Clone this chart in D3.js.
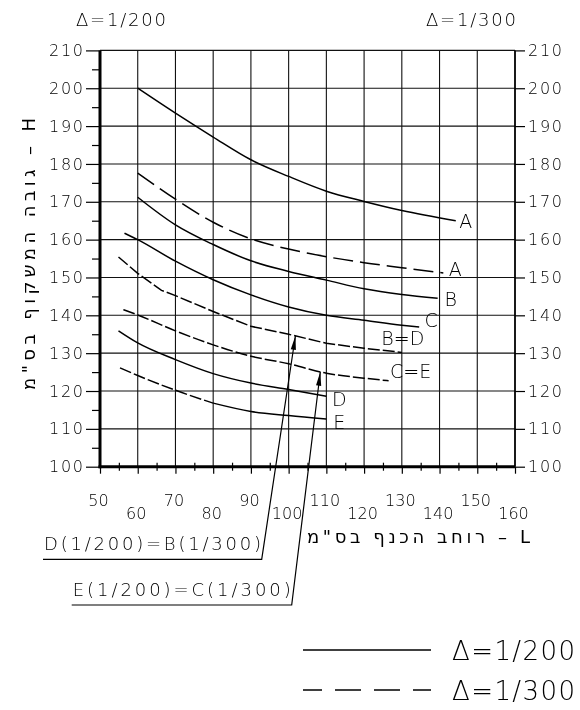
<!DOCTYPE html>
<html>
<head>
<meta charset="utf-8">
<script src="https://cdn.jsdelivr.net/npm/d3@7"></script>
<style>
  body { margin: 0; background: #fff; }
  svg { display: block; will-change: transform; }
</style>
</head>
<body>
<svg id="chart" width="580" height="710"></svg>
<script>
// Lintel height H (cm) against span width L (cm), for deflection limits 1/200 and 1/300.

const xTicks = [50, 60, 70, 80, 90, 100, 110, 120, 130, 140, 150, 160];
const yTicks = [100, 110, 120, 130, 140, 150, 160, 170, 180, 190, 200, 210];
const yMinorTicks = [105, 115, 125, 135, 145, 155, 165, 175, 185, 195, 205];
const xMinorTicks = [55, 65, 75, 85, 95, 105, 115, 125, 135, 145, 155];

// Δ = 1/200 curves, [L, H]
const curveA200 = [[60, 200], [70, 193.4], [80, 187.1], [90, 181.1], [100, 176.7], [110, 172.8], [120, 170.1], [130, 167.7], [144.3, 165.0]];
const curveB200 = [[60, 171.2], [70, 163.9], [80, 158.7], [90, 154.4], [100, 151.6], [110, 149.3], [120, 147.0], [130, 145.5], [139.5, 144.5]];
const curveC200 = [[56.5, 161.7], [60, 160], [70, 154.3], [80, 149.4], [90, 145.4], [100, 142.2], [110, 140.0], [120, 138.7], [130, 137.4], [134.6, 136.9]];
const curveD200 = [[54.9, 135.9], [60, 132.7], [70, 128.3], [80, 124.6], [90, 122.1], [100, 120.4], [110, 118.6]];
const curveE200 = [[55.3, 126.1], [60, 124.1], [70, 120.2], [80, 116.8], [90, 114.6], [100, 113.5], [110, 112.6]];

// Δ = 1/300 curves, [L, H]
const curveA300 = [[60, 177.6], [70, 170.7], [80, 164.6], [90, 160.2], [100, 157.5], [110, 155.5], [120, 153.9], [130, 152.6], [141, 151.2]];
const curveB300 = [[54.9, 155.4], [60, 151.1], [66.3, 146.6], [70, 145.2], [80, 141.0], [90, 137.1], [100, 135.0], [110, 132.6], [120, 131.3], [130, 130.2]];
const curveC300 = [[56.2, 141.5], [60, 140.1], [70, 135.9], [80, 132.2], [90, 129.2], [100, 127.2], [110, 124.7], [120, 123.4], [126.5, 122.7]];

const curveLabels = ["A", "B", "C", "D", "E", "A", "B=D", "C=E"];

// Where the two call-outs point, [L, H]
const calloutTexts = ["D(1/200)=B(1/300)", "E(1/200)=C(1/300)"];
const calloutTargets = [[101.8, 134.6], [108.4, 125.1]];

const headerLabels = ["\u0394=1/200", "\u0394=1/300"];
const legendLabels = ["\u0394=1/200", "\u0394=1/300"];
const xTitle = "רוחב הכנף בס\"מ \u2013 L";
const yTitle = "גובה המשקוף בס\"מ \u2013 H";

// ---------------------------------------------------------------
const FONT = "'DejaVu Sans', sans-serif";
const WEIGHT = 200;
const svg = d3.select("#chart");

const x = d3.scaleLinear().domain([50, 160]).range([100, 515]);
const y = d3.scaleLinear().domain([100, 210]).range([466.7, 50.4]);

// grid
const grid = svg.append("g").attr("stroke", "#111").attr("stroke-width", 1.1);
grid.selectAll("line.v").data(xTicks.filter(d => d > 50 && d < 160)).join("line")
  .attr("x1", d => x(d)).attr("x2", d => x(d)).attr("y1", y(210)).attr("y2", y(100));
grid.selectAll("line.h").data(yTicks.filter(d => d > 100)).join("line")
  .attr("x1", x(50)).attr("x2", x(160)).attr("y1", d => y(d)).attr("y2", d => y(d));

function styleAxis(g) {
  g.select(".domain").remove();
  g.selectAll("line").attr("stroke", "#000").attr("stroke-width", 1.2);
  g.selectAll("text").attr("font-family", FONT).attr("font-weight", WEIGHT)
    .attr("font-size", 16).attr("fill", "#000");
}

// left axis
svg.append("g").attr("transform", `translate(${x(50)},0)`)
  .call(d3.axisLeft(y).tickValues(yTicks).tickSize(14).tickPadding(3))
  .call(styleAxis)
  .call(g => g.selectAll("text").attr("textLength", 34).attr("lengthAdjust", "spacing"));
svg.append("g").attr("transform", `translate(${x(50)},0)`)
  .call(d3.axisLeft(y).tickValues(yMinorTicks).tickSize(8).tickFormat(""))
  .call(styleAxis);

// right axis
svg.append("g").attr("transform", `translate(${x(160)},0)`)
  .call(d3.axisRight(y).tickValues(yTicks).tickSize(10).tickPadding(3))
  .call(styleAxis)
  .call(g => g.selectAll("text").attr("textLength", 34).attr("lengthAdjust", "spacing"));

// bottom axis with staggered labels
svg.append("g").attr("transform", `translate(0,${y(100)})`)
  .call(d3.axisBottom(x).tickValues(xTicks).tickSize(7))
  .call(styleAxis)
  .call(g => g.selectAll("text")
    .attr("dy", null)
    .attr("x", -2)
    .attr("y", (d, i) => (i % 2 ? 52 : 39)));
svg.append("g").attr("transform", `translate(0,${y(100)})`)
  .call(d3.axisBottom(x).tickValues(xMinorTicks).tickSize(4).tickFormat(""))
  .call(styleAxis)
  .call(g => g.selectAll(".tick line").attr("y1", -4));

// frame lines
svg.append("line").attr("x1", x(50)).attr("x2", x(50)).attr("y1", y(210)).attr("y2", y(100) + 1.5)
  .attr("stroke", "#000").attr("stroke-width", 3);
svg.append("line").attr("x1", x(50) - 1.5).attr("x2", x(160)).attr("y1", y(100)).attr("y2", y(100))
  .attr("stroke", "#000").attr("stroke-width", 3);
svg.append("line").attr("x1", x(160)).attr("x2", x(160)).attr("y1", y(210)).attr("y2", y(100))
  .attr("stroke", "#000").attr("stroke-width", 1.8);

// curves
const smooth = d3.line().x(d => x(d[0])).y(d => y(d[1])).curve(d3.curveMonotoneX);
const straight = d3.line().x(d => x(d[0])).y(d => y(d[1]));
const curves = svg.append("g").attr("fill", "none").attr("stroke", "#000").attr("stroke-width", 1.5);

const LONG_DASH = "20,7";
const SHORT_DASH = "12,3";

[curveA200, curveB200, curveC200, curveD200].forEach(c =>
  curves.append("path").attr("d", smooth(c)));
// E starts with a broken stroke up to L = 80
curves.append("path").attr("d", smooth(curveE200.filter(d => d[0] <= 80))).attr("stroke-dasharray", SHORT_DASH);
curves.append("path").attr("d", smooth(curveE200.filter(d => d[0] >= 80)));

curves.append("path").attr("d", smooth(curveA300)).attr("stroke-dasharray", LONG_DASH);
curves.append("path").attr("d", straight(curveB300)).attr("stroke-dasharray", SHORT_DASH);
curves.append("path").attr("d", smooth(curveC300)).attr("stroke-dasharray", SHORT_DASH);

// curve-end labels
const allCurves = [curveA200, curveB200, curveC200, curveD200, curveE200, curveA300, curveB300, curveC300];
const labelOffsets = [[10, 0], [13, 1], [12, -7], [13, 3], [13, 3], [12, -4], [1, -14], [22, -10]];
svg.append("g").selectAll("text").data(curveLabels).join("text")
  .attr("x", (d, i) => x(allCurves[i][allCurves[i].length - 1][0]) + labelOffsets[i][0])
  .attr("y", (d, i) => y(allCurves[i][allCurves[i].length - 1][1]) + labelOffsets[i][1])
  .attr("dy", "0.36em")
  .attr("text-anchor", "middle")
  .attr("font-family", FONT).attr("font-weight", WEIGHT).attr("font-size", 19)
  .attr("fill", "#000")
  .text(d => d);

// call-outs with leaders and arrowheads
const calloutLayout = [
  { x0: 43, x1: 261.7, yLine: 559.3, textLen: 217 },
  { x0: 71.7, x1: 291.7, yLine: 605, textLen: 218 }
];
calloutTexts.forEach((t, i) => {
  const L = calloutLayout[i];
  const tx = x(calloutTargets[i][0]), ty = y(calloutTargets[i][1]);
  svg.append("text")
    .attr("x", L.x0 + 1).attr("y", L.yLine - 9)
    .attr("font-family", FONT).attr("font-weight", WEIGHT).attr("font-size", 18)
    .attr("textLength", L.textLen).attr("lengthAdjust", "spacing")
    .text(t);
  svg.append("path")
    .attr("d", `M${L.x0},${L.yLine}H${L.x1}L${tx},${ty}`)
    .attr("fill", "none").attr("stroke", "#000").attr("stroke-width", 1.2);
  const ang = Math.atan2(ty - L.yLine, tx - L.x1);
  const len = 14, half = 2.6;
  const bx = tx - len * Math.cos(ang), by = ty - len * Math.sin(ang);
  const px = -Math.sin(ang) * half, py = Math.cos(ang) * half;
  svg.append("path")
    .attr("d", `M${tx},${ty}L${bx + px},${by + py}L${bx - px},${by - py}Z`)
    .attr("fill", "#000");
});

// header labels above each side axis
svg.append("g").selectAll("text").data(headerLabels).join("text")
  .attr("x", (d, i) => (i ? 426 : 76)).attr("y", 26)
  .attr("font-family", FONT).attr("font-weight", WEIGHT).attr("font-size", 18)
  .attr("textLength", 90).attr("lengthAdjust", "spacing")
  .text(d => d);

// axis titles (regular weight: the light face has no Hebrew glyphs)
svg.append("text")
  .attr("x", 530).attr("y", 543)
  .attr("text-anchor", "end")
  .attr("font-family", FONT).attr("font-weight", 400).attr("font-size", 18)
  .attr("textLength", 223).attr("lengthAdjust", "spacing")
  .text(xTitle);
svg.append("text")
  .attr("transform", "translate(35,254) rotate(-90)")
  .attr("text-anchor", "middle")
  .attr("font-family", FONT).attr("font-weight", 400).attr("font-size", 18)
  .attr("textLength", 272).attr("lengthAdjust", "spacing")
  .text(yTitle);

// legend
const legendY = [650, 690];
svg.append("line").attr("x1", 303).attr("x2", 431).attr("y1", legendY[0]).attr("y2", legendY[0])
  .attr("stroke", "#000").attr("stroke-width", 1.5);
svg.append("line").attr("x1", 303).attr("x2", 431).attr("y1", legendY[1]).attr("y2", legendY[1])
  .attr("stroke", "#000").attr("stroke-width", 1.5)
  .attr("stroke-dasharray", "26,13").attr("stroke-dashoffset", 7);
svg.append("g").selectAll("text").data(legendLabels).join("text")
  .attr("x", 452).attr("y", (d, i) => legendY[i] + 10)
  .attr("font-family", FONT).attr("font-weight", WEIGHT).attr("font-size", 26)
  .attr("textLength", 123).attr("lengthAdjust", "spacing")
  .text(d => d);
</script>
</body>
</html>
